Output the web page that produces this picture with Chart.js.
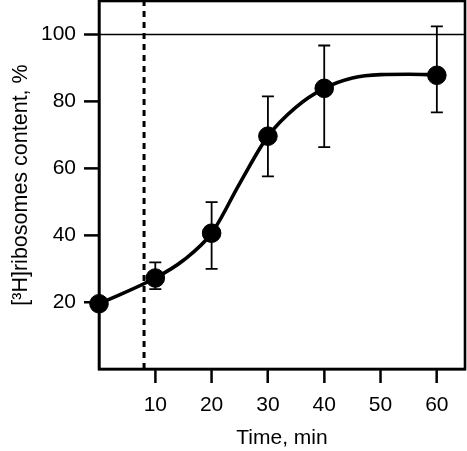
<!DOCTYPE html>
<html lang="en">
<head>
    <meta charset="UTF-8">
    <title>Ribosomes content</title>
    <style>
        body { margin: 0; background: #fff; }
        #chart-container { width: 467px; height: 451px; }
    </style>
</head>
<body>
    <div id="chart-container">
        <canvas id="line-chart"></canvas>
    </div>

    <script src="https://cdn.jsdelivr.net/npm/chart.js"></script>
    <script>
        // measured points, min
        const times = [0, 10, 20, 30, 40, 60];
        const content = [19.5, 27.2, 40.6, 69.6, 83.9, 87.8];
        const errHigh = [null, 31.9, 49.9, 81.5, 96.7, 102.4];
        const errLow = [null, 23.9, 29.9, 57.6, 66.3, 76.7];

        // fitted curve
        const curveTime = [0, 10, 15, 20, 25, 30, 35, 40, 45, 50, 55, 60];
        const curveFit = [19.5, 27.2, 32.5, 40.6, 55.5, 69.6, 78.3, 83.9, 87.0, 88.0, 88.1, 87.9];

        const xTicks = [10, 20, 30, 40, 50, 60];
        const yTicks = [20, 40, 60, 80, 100];
        const xRange = [0, 65];
        const yRange = [0, 110];
        const refLevel = 100;
        const markTime = 8;

        const font = "'Liberation Sans', Arial, sans-serif";

        // error bars, frame and outside tick marks
        const extras = {
            id: "extras",
            beforeDatasetsDraw(chart) {
                const { ctx, chartArea, scales } = chart;
                ctx.save();
                ctx.strokeStyle = "#000";
                ctx.lineWidth = 1.8;
                for (let i = 0; i < times.length; i++) {
                    if (errHigh[i] == null) continue;
                    const x = scales.x.getPixelForValue(times[i]);
                    const yTop = scales.y.getPixelForValue(errHigh[i]);
                    const yBot = scales.y.getPixelForValue(errLow[i]);
                    ctx.beginPath();
                    ctx.moveTo(x, yTop); ctx.lineTo(x, yBot);
                    ctx.moveTo(x - 6, yTop); ctx.lineTo(x + 6, yTop);
                    ctx.moveTo(x - 6, yBot); ctx.lineTo(x + 6, yBot);
                    ctx.stroke();
                }

                ctx.lineWidth = 2;
                ctx.beginPath();
                xTicks.forEach(v => {
                    const x = scales.x.getPixelForValue(v);
                    ctx.moveTo(x, chartArea.bottom);
                    ctx.lineTo(x, chartArea.bottom + 14);
                });
                yTicks.forEach(v => {
                    const y = scales.y.getPixelForValue(v);
                    ctx.moveTo(chartArea.left, y);
                    ctx.lineTo(chartArea.left - 15, y);
                });
                ctx.stroke();

                ctx.lineWidth = 2.6;
                ctx.strokeRect(chartArea.left, chartArea.top, chartArea.right - chartArea.left, chartArea.bottom - chartArea.top);
                ctx.restore();
            }
        };

        // fixed axis boxes, no extra label padding
        function fitX(s) {
            s.height = 82;
            s.paddingLeft = 0; s.paddingRight = 0;
        }
        function fitY(s) {
            s.width = 99;
            s.paddingTop = 0; s.paddingBottom = 0;
        }

        const ctx = document.getElementById("line-chart").getContext("2d");
        new Chart(ctx, {
            type: "scatter",
            data: {
                datasets: [
                    {
                        label: "points",
                        data: times.map((t, i) => ({ x: t, y: content[i] })),
                        backgroundColor: "#000",
                        borderColor: "#000",
                        pointRadius: 9.3,
                        showLine: false,
                        clip: false
                    },
                    {
                        label: "fit",
                        data: curveTime.map((t, i) => ({ x: t, y: curveFit[i] })),
                        showLine: true,
                        borderColor: "#000",
                        borderWidth: 3.6,
                        pointRadius: 0,
                        cubicInterpolationMode: "monotone"
                    },
                    {
                        label: "ref",
                        data: [{ x: xRange[0], y: refLevel }, { x: xRange[1], y: refLevel }],
                        showLine: true,
                        borderColor: "#000",
                        borderWidth: 1.6,
                        pointRadius: 0
                    },
                    {
                        label: "mark",
                        data: [{ x: markTime, y: yRange[0] }, { x: markTime, y: yRange[1] }],
                        showLine: true,
                        borderColor: "#000",
                        borderWidth: 3,
                        borderDash: [6, 5],
                        pointRadius: 0
                    }
                ]
            },
            options: {
                responsive: true,
                maintainAspectRatio: false,
                animation: false,
                layout: { autoPadding: false, padding: { top: 1, right: 2, left: 0, bottom: 0 } },
                plugins: { legend: { display: false }, tooltip: { enabled: false } },
                scales: {
                    x: {
                        type: "linear",
                        min: xRange[0],
                        max: xRange[1],
                        afterBuildTicks: s => { s.ticks = xTicks.map(v => ({ value: v })); },
                        afterFit: fitX,
                        border: { display: true, color: "#000", width: 2.6 },
                        grid: { drawOnChartArea: false, tickLength: 14, tickWidth: 2, tickColor: "#000" },
                        ticks: { color: "#000", padding: 10, font: { family: font, size: 21 } },
                        title: {
                            display: true,
                            text: "Time, min",
                            color: "#000",
                            padding: { top: 0, bottom: 0 },
                            font: { family: font, size: 21 }
                        }
                    },
                    y: {
                        min: yRange[0],
                        max: yRange[1],
                        afterBuildTicks: s => { s.ticks = yTicks.map(v => ({ value: v })); },
                        afterFit: fitY,
                        border: { display: true, color: "#000", width: 2.6 },
                        grid: { drawOnChartArea: false, tickLength: 15, tickWidth: 2, tickColor: "#000" },
                        ticks: { color: "#000", padding: 8, font: { family: font, size: 21 } },
                        title: {
                            display: true,
                            text: "[³H]ribosomes content, %",
                            color: "#000",
                            padding: { top: 8, bottom: 0 },
                            font: { family: font, size: 21.5 }
                        }
                    }
                }
            },
            plugins: [extras]
        });
    </script>
</body>
</html>
